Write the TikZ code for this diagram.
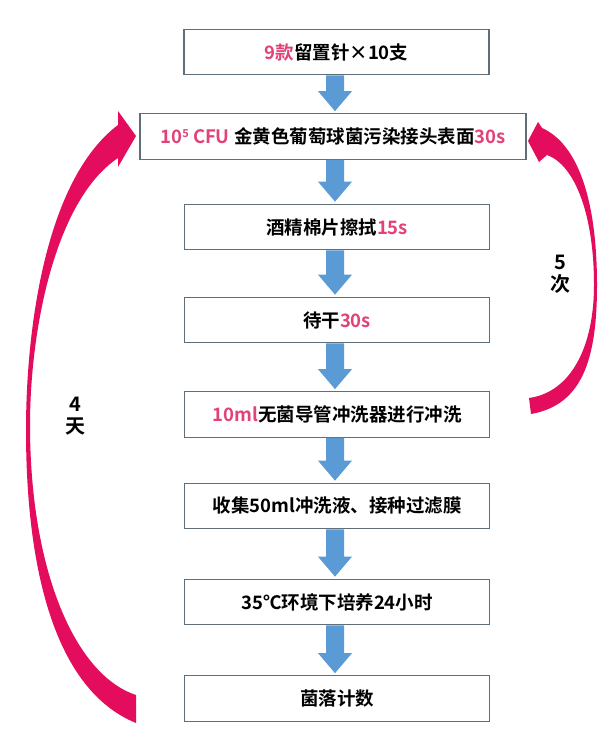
\documentclass[tikz,border=0pt]{standalone}
\usepackage{fontspec}
\setmainfont{Noto Sans CJK SC}[BoldFont={Noto Sans CJK SC Bold}]
\usetikzlibrary{calc}
\definecolor{pinktxt}{RGB}{226,66,122}
\definecolor{arrowblue}{RGB}{91,155,213}
\definecolor{boxedge}{RGB}{95,110,120}
\definecolor{crimson}{RGB}{228,12,92}
\newcommand\hlt[1]{\textcolor{pinktxt}{#1}}
\newcommand\bluearrow[2]{%
  \fill[arrowblue] let \p1=(#1.south), \p2=(#2.north) in
  (326pt,\y1) -- (344pt,\y1) -- (344pt,\y2+22pt) -- (352pt,\y2+22pt) -- (335pt,\y2+2pt)
  -- (318pt,\y2+22pt) -- (326pt,\y2+22pt) -- cycle;}
\begin{document}
\begin{tikzpicture}[x=1pt,y=-1pt,
  stepbox/.style={draw=boxedge, line width=1.2pt, fill=white, minimum width=305pt,
    minimum height=45.5pt, inner sep=0pt, font=\fontsize{18.5}{22}\selectfont\bfseries},
  sidelabel/.style={align=center, font=\fontsize{20}{22}\selectfont\bfseries}]
\useasboundingbox[fill=white] (0,0) rectangle (604,751);
\node[stepbox] (b1) at (336.5,52) {\hlt{9款}留置针×10支};
\node[stepbox, minimum width=386pt] (b2) at (333,136.5)
  {\hlt{10\raisebox{6pt}{\fontsize{11}{11}\selectfont 5} CFU} 金黄色葡萄球菌污染接头表面\hlt{30s}};
\node[stepbox] (b3) at (337,227) {酒精棉片擦拭\hlt{15s}};
\node[stepbox] (b4) at (337,320) {待干\hlt{30s}};
\node[stepbox] (b5) at (337,414.5) {\hlt{10ml}无菌导管冲洗器进行冲洗};
\node[stepbox] (b6) at (337,506) {收集50ml冲洗液、接种过滤膜};
\node[stepbox] (b7) at (337,602) {35℃环境下培养24小时};
\node[stepbox] (b8) at (337,698.5) {菌落计数};
\bluearrow{b1}{b2}
\bluearrow{b2}{b3}
\bluearrow{b3}{b4}
\bluearrow{b4}{b5}
\bluearrow{b5}{b6}
\bluearrow{b6}{b7}
\bluearrow{b7}{b8}
% left curved arrow (4 days)
\fill[crimson] (136,723) .. controls (55,690) and (26,570) .. (26,430)
  .. controls (26,330) and (45,180) .. (118,125) -- (118,111) -- (136,136)
  -- (118,167) -- (118,158) .. controls (55,200) and (30,330) .. (30,425)
  .. controls (30,570) and (75,675) .. (136,695) -- cycle;
% right curved arrow (5 times)
\fill[crimson] (531,414) .. controls (582,405) and (597,360) .. (597,285)
  .. controls (597,205) and (580,145) .. (542,128) -- (538,122) -- (528,141)
  -- (539,162) -- (547,155) .. controls (575,165) and (594,215) .. (594,285)
  .. controls (594,345) and (572,392) .. (529,398) -- cycle;
\node[sidelabel] (days) at (75,416) {4\\天};
\node[sidelabel] (times) at (560,274) {5\\次};
\end{tikzpicture}
\end{document}
